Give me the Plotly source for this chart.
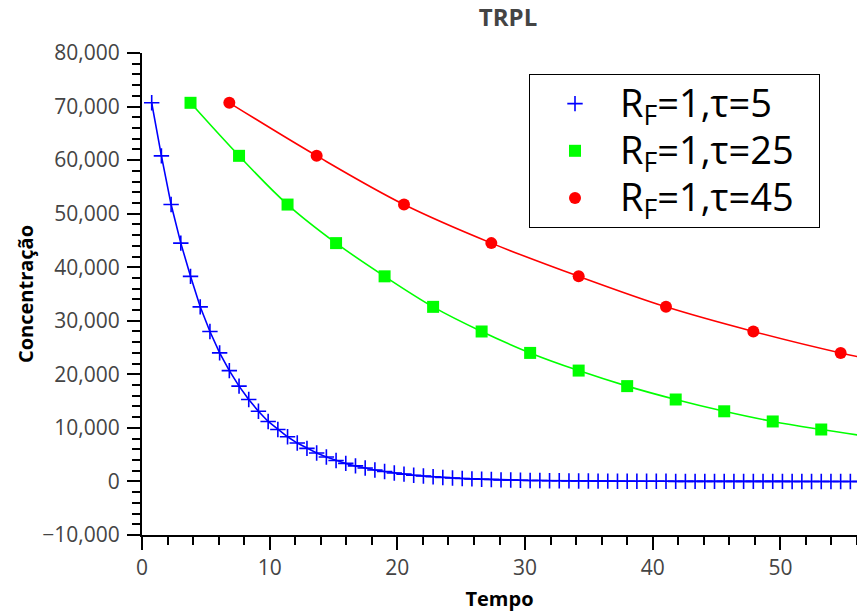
import plotly.graph_objects as go

# ---- data ----
x_tau5 = [0.76, 1.52, 2.28, 3.04, 3.80, 4.56, 5.32, 6.08, 6.84, 7.60, 8.36, 9.12, 9.88, 10.64,
          11.40, 12.16, 12.92, 13.68, 14.44, 15.20, 15.96, 16.72, 17.48, 18.24, 19.00, 19.76,
          20.52, 21.28, 22.04, 22.80, 23.56, 24.32, 25.08, 25.84, 26.60, 27.36, 28.12, 28.88,
          29.64, 30.40, 31.16, 31.92, 32.68, 33.44, 34.20, 34.96, 35.72, 36.48, 37.24, 38.00,
          38.76, 39.52, 40.28, 41.04, 41.80, 42.56, 43.32, 44.08, 44.84, 45.60, 46.36, 47.12,
          47.88, 48.64, 49.40, 50.16, 50.92, 51.68, 52.44, 53.20, 53.96, 54.72, 55.48, 56.24]
y_tau5 = [70700, 60800, 51700, 44500, 38300, 32600, 28000, 24000, 20700, 17800, 15300, 13100,
          11200, 9700, 8340, 7170, 6170, 5300, 4560, 3920, 3370, 2900, 2500, 2150, 1850, 1590,
          1360, 1170, 1010, 870, 750, 640, 550, 475, 410, 350, 300, 260, 225, 190, 165, 140,
          120, 105, 90, 77, 66, 57, 49, 42, 36, 31, 27, 23, 20, 17, 15, 13, 11, 9, 8, 7, 6, 5,
          4, 4, 3, 3, 2, 2, 2, 2, 1, 1]

x_tau25 = [3.80, 7.60, 11.40, 15.20, 19.00, 22.80, 26.60, 30.40, 34.20, 38.00, 41.80, 45.60,
           49.40, 53.20, 57.00]
y_tau25 = [70700, 60800, 51700, 44500, 38300, 32600, 28000, 24000, 20700, 17800, 15300, 13100,
           11200, 9700, 8340]

x_tau45 = [6.84, 13.68, 20.52, 27.36, 34.20, 41.04, 47.88, 54.72, 61.56]
y_tau45 = [70700, 60800, 51700, 44500, 38300, 32600, 28000, 24000, 20700]

series_names = ["R<sub>F</sub>=1,τ=5", "R<sub>F</sub>=1,τ=25", "R<sub>F</sub>=1,τ=45"]
x_ticks = [0, 10, 20, 30, 40, 50]
y_ticks = [-10000, 0, 10000, 20000, 30000, 40000, 50000, 60000, 70000, 80000]

FONT = "Open Sans"
BLUE, GREEN, RED = "#0000ff", "#00ff00", "#ff0000"


def legend_label(name):
    return '<span style="font-size:38px">' + name + "&nbsp;&nbsp;</span>"


fig = go.Figure()

# fitted curves (not in legend)
fig.add_trace(go.Scatter(x=x_tau5, y=y_tau5, mode="lines",
                         line=dict(color=BLUE, width=1.6), showlegend=False, hoverinfo="skip"))
fig.add_trace(go.Scatter(x=x_tau25, y=y_tau25, mode="lines",
                         line=dict(color=GREEN, width=1.6, shape="spline"),
                         showlegend=False, hoverinfo="skip"))
fig.add_trace(go.Scatter(x=x_tau45, y=y_tau45, mode="lines",
                         line=dict(color=RED, width=1.6, shape="spline"),
                         showlegend=False, hoverinfo="skip"))

# markers (in legend)
fig.add_trace(go.Scatter(x=x_tau5, y=y_tau5, mode="markers", name=legend_label(series_names[0]),
                         marker=dict(symbol="cross-thin", size=11, color=BLUE,
                                     line=dict(color=BLUE, width=1.6))))
fig.add_trace(go.Scatter(x=x_tau25, y=y_tau25, mode="markers", name=legend_label(series_names[1]),
                         marker=dict(symbol="square", size=12, color=GREEN,
                                     line=dict(width=0))))
fig.add_trace(go.Scatter(x=x_tau45, y=y_tau45, mode="markers", name=legend_label(series_names[2]),
                         marker=dict(symbol="circle", size=12, color=RED,
                                     line=dict(width=0))))

axis_common = dict(
    showline=True, linecolor="black", linewidth=2,
    ticks="outside", ticklen=13, tickwidth=1.5, tickcolor="black",
    showgrid=False, zeroline=False, mirror=False,
    tickfont=dict(family=FONT, size=21, color="#444"),
)

fig.update_layout(
    width=857, height=612,
    margin=dict(l=142, r=0, t=53, b=77),
    paper_bgcolor="white", plot_bgcolor="white",
    font=dict(family=FONT),
    title=dict(text="<b>TRPL</b>", x=508 / 857, xref="container", xanchor="center",
               y=1 - 18 / 612, yref="container", yanchor="middle",
               font=dict(family=FONT, size=24, color="#444")),
    xaxis=dict(range=[0, 56], tickvals=x_ticks,
               minor=dict(dtick=2, ticks="outside", ticklen=8, tickwidth=1.5, tickcolor="black"),
               title=dict(text="<b>Tempo</b>", font=dict(family=FONT, size=20, color="black"),
                          standoff=12),
               **axis_common),
    yaxis=dict(range=[-10000, 80000], tickvals=y_ticks, tickformat=",",
               minor=dict(dtick=2000, ticks="outside", ticklen=8, tickwidth=1.5, tickcolor="black"),
               title=dict(text="<b>Concentração</b>", font=dict(family=FONT, size=20, color="black"),
                          standoff=3),
               ticklabelstandoff=3,
               **axis_common),
    legend=dict(x=(529 - 142) / 715, y=(535 - 74) / 482, xanchor="left", yanchor="top",
                bgcolor="white", bordercolor="black", borderwidth=1,
                itemwidth=80,
                font=dict(family=FONT, size=34, color="black")),
    showlegend=True,
)

fig.write_html("out.html")
